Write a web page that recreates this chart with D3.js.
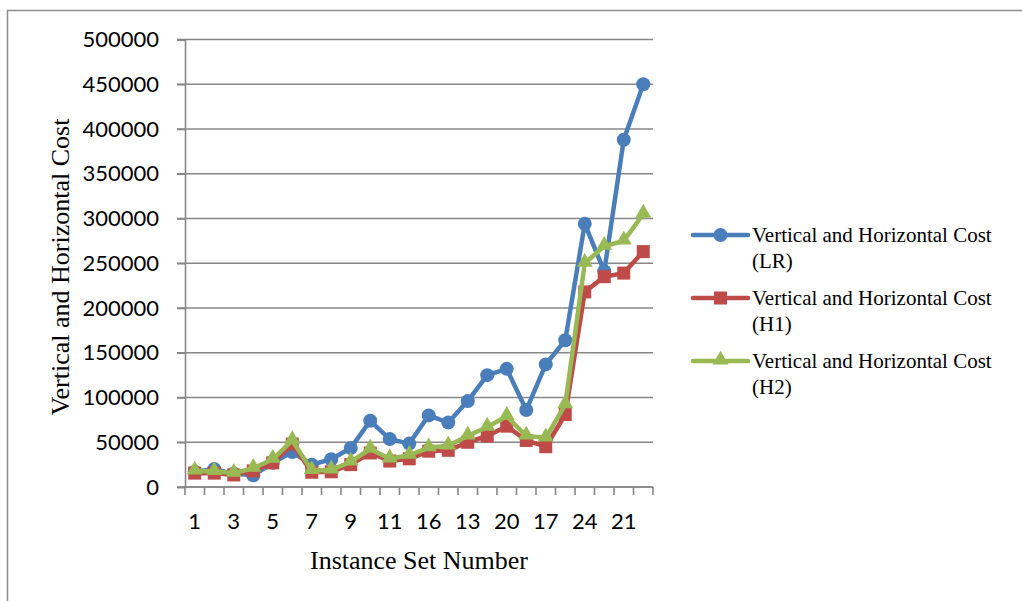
<!DOCTYPE html>
<html>
<head>
<meta charset="utf-8">
<script src="https://cdn.jsdelivr.net/npm/d3@7"></script>
<style>
  body { margin: 0; background: #fff; }
  svg { display: block; }
</style>
</head>
<body>
<svg id="chart" width="1022" height="601"></svg>
<script>
// instance sets as they appear on the x axis (only every other one is labelled)
var categories = ["1", "2", "3", "4", "5", "6", "7", "8", "9", "10", "11", "12",
                  "16", "15", "13", "14", "20", "19", "17", "18", "24", "23", "21", "22"];

var costLR = [17000, 20000, 15000, 13000, 27000, 39000, 25000, 31000, 43500, 74000, 53500, 48500,
              80000, 72000, 96000, 125000, 132000, 86000, 137000, 164000, 294000, 241000, 388000, 450000];
var costH1 = [15500, 15500, 13500, 18000, 27000, 48000, 16500, 17000, 25000, 38000, 29000, 31500,
              40000, 41000, 50000, 57000, 68000, 52000, 45000, 81000, 218000, 235000, 239000, 263000];
var costH2 = [18000, 17500, 15500, 21000, 31000, 52000, 18500, 19000, 28000, 42500, 31500, 35500,
              44000, 46000, 57000, 67000, 79000, 57000, 55000, 92000, 250000, 269000, 275000, 305000];

var seriesNames = ["Vertical and Horizontal Cost (LR)",
                   "Vertical and Horizontal Cost (H1)",
                   "Vertical and Horizontal Cost (H2)"];
var yTicks = [0, 50000, 100000, 150000, 200000, 250000, 300000, 350000, 400000, 450000, 500000];

var series = [
    {name: seriesNames[0], values: costLR, color: "#4A7EBB", marker: "circle"},
    {name: seriesNames[1], values: costH1, color: "#BE4B48", marker: "square"},
    {name: seriesNames[2], values: costH2, color: "#98B954", marker: "triangle"}
];

var svg = d3.select("#chart");

// outer frame
svg.append("rect")
    .attr("x", 7.5).attr("y", 10.5)
    .attr("width", 1030).attr("height", 620)
    .attr("fill", "none")
    .attr("stroke", "#8c8c8c")
    .attr("stroke-width", 1.5);

var plotLeft = 185, plotRight = 653, plotTop = 39.5, plotBottom = 487;

var x = d3.scaleBand().domain(categories).range([plotLeft, plotRight]);
var y = d3.scaleLinear().domain([0, 500000]).range([plotBottom, plotTop]);

// horizontal gridlines
svg.append("g")
    .selectAll("line")
    .data(yTicks)
    .enter()
    .append("line")
    .attr("x1", plotLeft - 8).attr("x2", plotRight)
    .attr("y1", function(d) { return y(d); })
    .attr("y2", function(d) { return y(d); })
    .attr("stroke", "#878787")
    .attr("stroke-width", 1.6);

// y axis
var yAxis = svg.append("g")
    .attr("transform", "translate(" + plotLeft + ",0)")
    .call(d3.axisLeft(y).tickValues(yTicks).tickSize(8).tickPadding(18)
        .tickFormat(d3.format("d")));
yAxis.select(".domain").attr("stroke", "#878787").attr("stroke-width", 1.6);
yAxis.selectAll(".tick line").attr("stroke", "#878787").attr("stroke-width", 1.6);
yAxis.selectAll("text")
    .attr("fill", "#000")
    .style("font-family", "Lato, 'Open Sans', sans-serif")
    .style("font-size", "22px");

// x axis with ticks between categories
var xAxisG = svg.append("g").attr("transform", "translate(0," + plotBottom + ")");
xAxisG.append("line")
    .attr("x1", plotLeft).attr("x2", plotRight)
    .attr("stroke", "#878787").attr("stroke-width", 1.6);
var bounds = d3.range(categories.length + 1);
xAxisG.selectAll("line.tk")
    .data(bounds)
    .enter()
    .append("line")
    .attr("class", "tk")
    .attr("x1", function(i) { return plotLeft + i * x.step(); })
    .attr("x2", function(i) { return plotLeft + i * x.step(); })
    .attr("y1", 0).attr("y2", 8)
    .attr("stroke", "#878787").attr("stroke-width", 1.6);
xAxisG.selectAll("text")
    .data(categories.filter(function(d, i) { return i % 2 === 0; }))
    .enter()
    .append("text")
    .attr("x", function(d) { return x(d) + x.bandwidth() / 2; })
    .attr("y", 42)
    .attr("text-anchor", "middle")
    .style("font-family", "Lato, 'Open Sans', sans-serif")
    .style("font-size", "22px")
    .text(function(d) { return d; });

// axis titles
svg.append("text")
    .attr("x", 419).attr("y", 569)
    .attr("text-anchor", "middle")
    .style("font-family", "'Liberation Serif', 'Times New Roman', serif")
    .style("font-size", "26px")
    .text("Instance Set Number");

svg.append("text")
    .attr("transform", "translate(69,267) rotate(-90)")
    .attr("text-anchor", "middle")
    .style("font-family", "'Liberation Serif', 'Times New Roman', serif")
    .style("font-size", "26px")
    .text("Vertical and Horizontal Cost");

var line = d3.line()
    .x(function(d, i) { return x(categories[i]) + x.bandwidth() / 2; })
    .y(function(d) { return y(d); });

function drawMarker(g, type, color, cx, cy) {
    if (type === "circle") {
        g.append("circle").attr("cx", cx).attr("cy", cy).attr("r", 7).attr("fill", color);
    } else if (type === "square") {
        g.append("rect").attr("x", cx - 6.5).attr("y", cy - 6.5)
            .attr("width", 13).attr("height", 13).attr("fill", color);
    } else {
        g.append("path")
            .attr("d", d3.symbol().type(d3.symbolTriangle).size(110)())
            .attr("transform", "translate(" + cx + "," + (cy - 1) + ")")
            .attr("fill", color);
    }
}

series.forEach(function(s) {
    var g = svg.append("g");
    g.append("path")
        .datum(s.values)
        .attr("d", line)
        .attr("fill", "none")
        .attr("stroke", s.color)
        .attr("stroke-width", 4.5)
        .attr("stroke-linejoin", "round");
    s.values.forEach(function(v, i) {
        drawMarker(g, s.marker, s.color, x(categories[i]) + x.bandwidth() / 2, y(v));
    });
});

// legend
var legendY = [235, 298, 361];
series.forEach(function(s, i) {
    var g = svg.append("g").attr("transform", "translate(0," + legendY[i] + ")");
    g.append("line")
        .attr("x1", 693).attr("x2", 748)
        .attr("stroke", s.color).attr("stroke-width", 4.5)
        .attr("stroke-linecap", "round");
    drawMarker(g, s.marker, s.color, 720.5, 0);
    var t = g.append("text")
        .style("font-family", "'Liberation Serif', 'Times New Roman', serif")
        .style("font-size", "21px");
    var parts = s.name.split(" (");
    t.append("tspan").attr("x", 752).attr("y", 7).text(parts[0]);
    t.append("tspan").attr("x", 752).attr("y", 33).text("(" + parts[1]);
});
</script>
</body>
</html>
